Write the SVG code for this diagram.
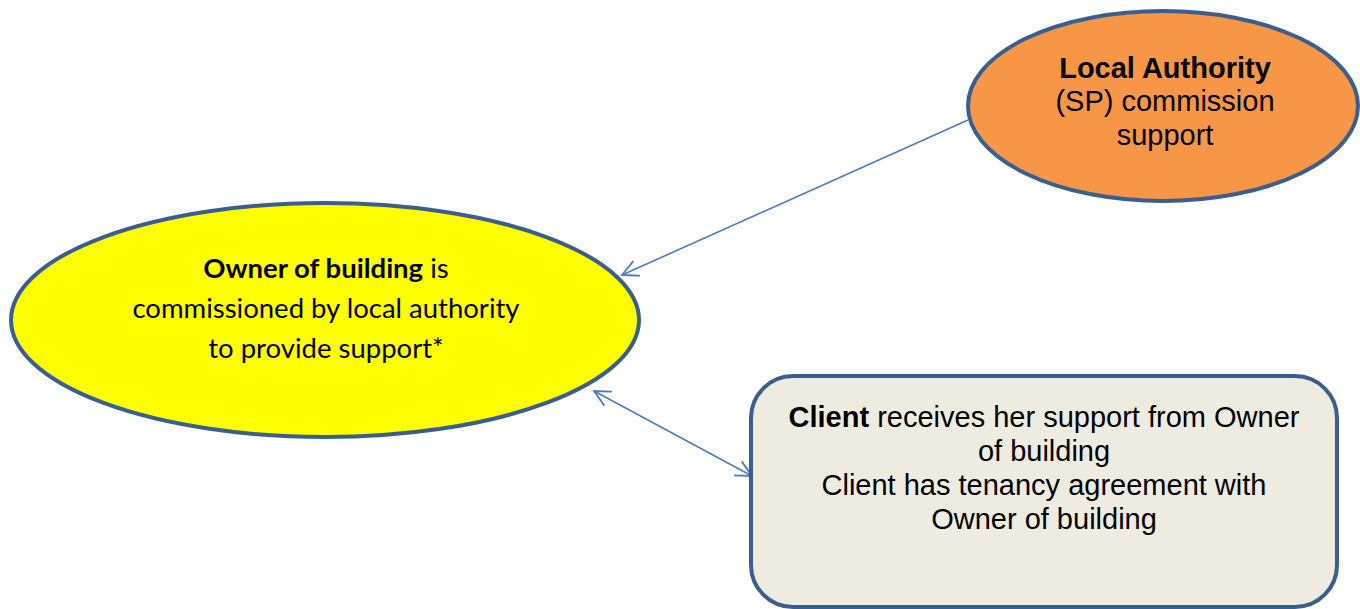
<svg xmlns="http://www.w3.org/2000/svg" width="1360" height="609" viewBox="0 0 1360 609">
<style>
.node{stroke:#3A5F8F;stroke-width:4}
.ar{font-family:"Liberation Sans",Arial,sans-serif;font-size:29px;fill:#000;text-anchor:middle}
.ca{font-family:Lato,"Open Sans",sans-serif;font-size:27.5px;fill:#000;text-anchor:middle}
.b{font-weight:bold}
.conn{stroke:#4A7EBB;stroke-width:1.6;fill:none}
</style>
<defs>
<marker id="ah" viewBox="0 0 20 20" refX="18" refY="10" markerWidth="20" markerHeight="20" markerUnits="userSpaceOnUse" orient="auto-start-reverse">
<path d="M2,2 L18,10 L2,18" fill="none" stroke="#4A7EBB" stroke-width="1.8"/>
</marker>
</defs>
<rect width="1360" height="609" fill="#fff"/>
<g id="connectors">
<line class="conn" x1="968" y1="120" x2="622" y2="275" marker-end="url(#ah)"/>
<line class="conn" x1="594" y1="391" x2="752" y2="476" marker-start="url(#ah)" marker-end="url(#ah)"/>
</g>
<g id="local-authority">
<ellipse class="node" cx="1163" cy="106" rx="195" ry="95" fill="#F79646"/>
<text class="ar" x="1165" y="78"><tspan class="b">Local Authority</tspan></text>
<text class="ar" x="1165" y="111">(SP) commission</text>
<text class="ar" x="1165" y="145">support</text>
</g>
<g id="owner">
<ellipse class="node" cx="325" cy="320" rx="314" ry="117" fill="#FFFF00"/>
<text class="ca" x="326" y="278"><tspan class="b">Owner of building</tspan> is</text>
<text class="ca" x="326" y="318">commissioned by local authority</text>
<text class="ca" x="326" y="358">to provide support*</text>
</g>
<g id="client">
<rect class="node" x="751" y="376" width="586" height="231" rx="42" ry="42" fill="#EEECE1"/>
<text class="ar" x="1044" y="427"><tspan class="b">Client</tspan> receives her support from Owner</text>
<text class="ar" x="1044" y="461">of building</text>
<text class="ar" x="1044" y="495">Client has tenancy agreement with</text>
<text class="ar" x="1044" y="529">Owner of building</text>
</g>
</svg>
